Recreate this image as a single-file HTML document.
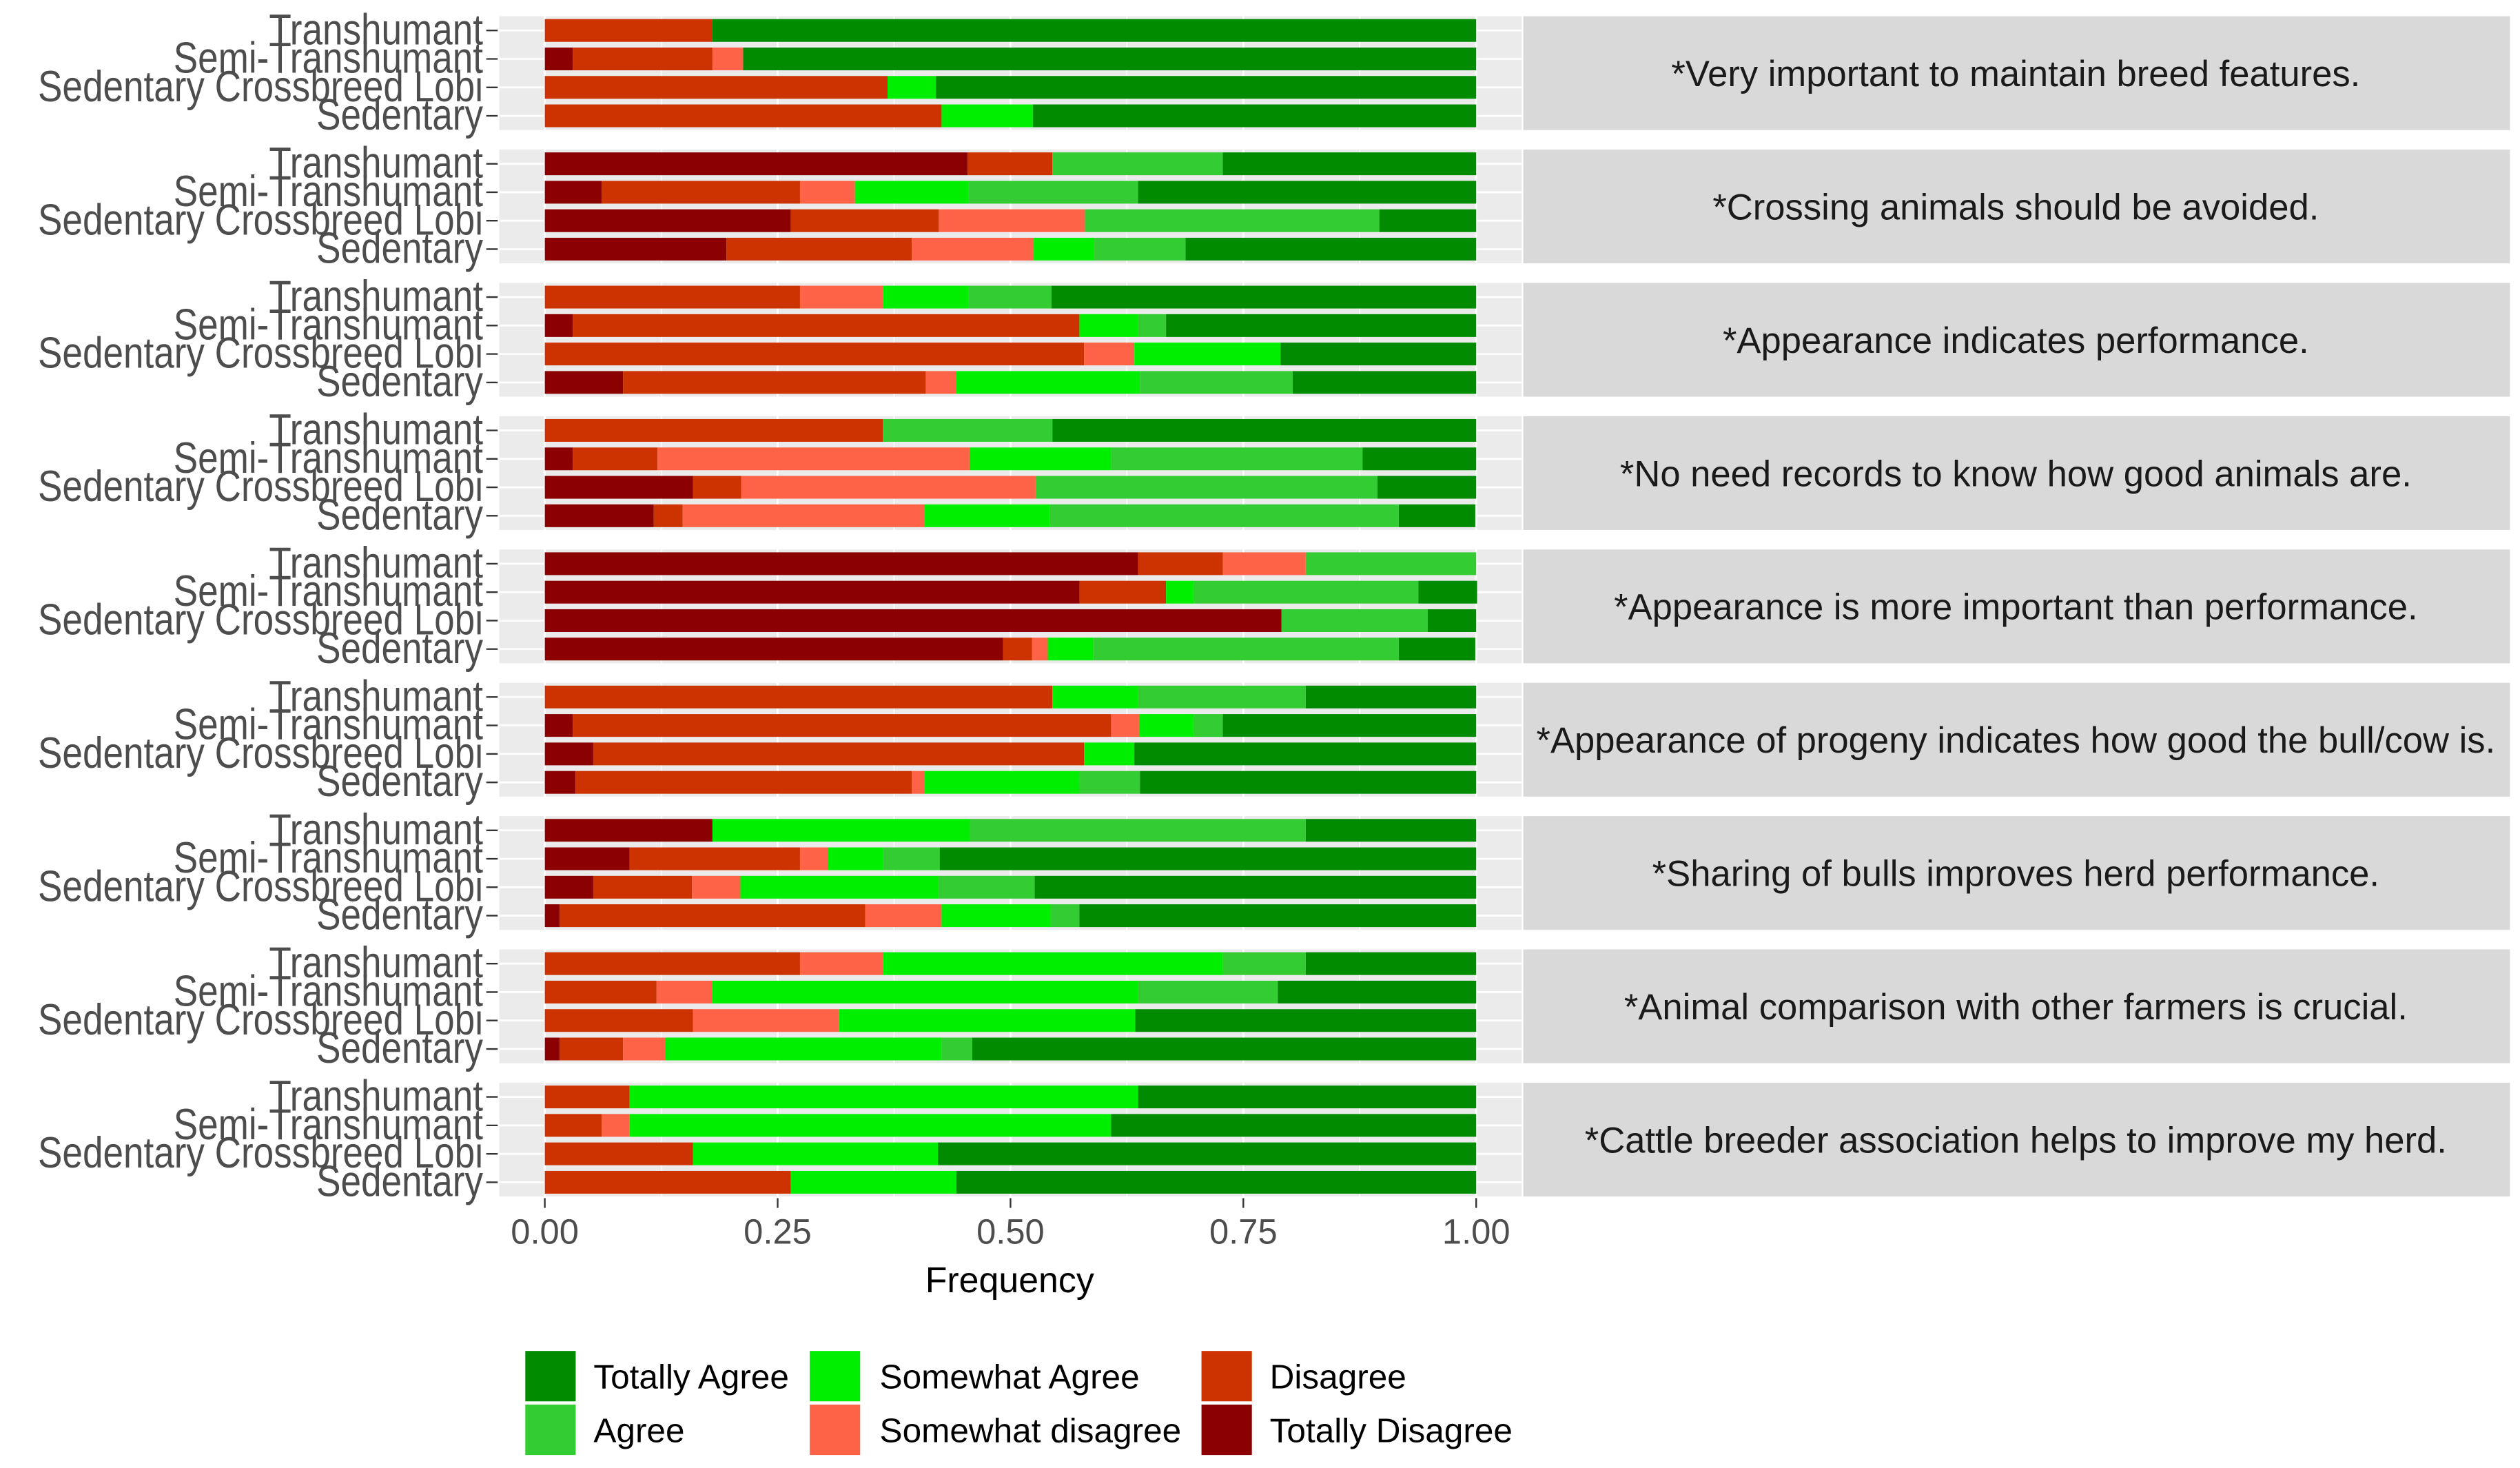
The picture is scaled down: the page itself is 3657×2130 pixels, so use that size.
<!DOCTYPE html>
<html><head><meta charset="utf-8"><style>
html,body{margin:0;padding:0;background:#fff}
svg{display:block}
text{font-family:"Liberation Sans",Arial,sans-serif}
</style></head><body>
<svg id="chart" width="3657" height="2130" viewBox="0 0 1550 903" xmlns="http://www.w3.org/2000/svg"></svg>
<script>
const categories = ["Transhumant","Semi-Transhumant","Sedentary Crossbreed Lobi","Sedentary"];
const panelTitles = ["*Very important to maintain breed features.","*Crossing animals  should be avoided.","*Appearance indicates performance.","*No need records to know how good animals are.","*Appearance is more important than performance.","*Appearance of progeny indicates how good the bull/cow is.","*Sharing of bulls improves herd performance.","*Animal comparison with other farmers is crucial.","*Cattle breeder association helps to improve my herd."];
const levels = ["Totally Disagree","Disagree","Somewhat disagree","Somewhat Agree","Agree","Totally Agree"];
const xTicks = [0,0.25,0.5,0.75,1];
const xTickLabels = ["0.00","0.25","0.50","0.75","1.00"];
// values per panel, per category: [TD, D, SD, SA, A, TA]
const p1 = [[0,.18,0,0,0,.82],[.03,.15,.033,0,0,.787],[0,.368,0,.052,0,.58],[0,.426,0,.098,0,.476]];
const p2 = [[.454,.091,0,0,.183,.272],[.061,.213,.059,.122,.182,.363],[.264,.159,.157,0,.316,.104],[.195,.199,.131,.065,.098,.312]];
const p3 = [[0,.274,.089,.092,.089,.456],[.03,.544,0,.063,.03,.333],[0,.579,.054,.157,0,.21],[.084,.325,.033,.197,.164,.197]];
const p4 = [[0,.363,0,0,.182,.455],[.03,.091,.335,.152,.27,.122],[.159,.052,.316,0,.367,.106],[.117,.031,.26,.134,.375,.082]];
const p5 = [[.637,.091,.089,0,.183,0],[.574,.093,0,.03,.241,.063],[.791,0,0,0,.157,.052],[.492,.031,.017,.049,.328,.082]];
const p6 = [[0,.545,0,.092,.18,.183],[.03,.578,.03,.059,.031,.272],[.052,.527,0,.054,0,.367],[.033,.361,.014,.166,.065,.361]];
const p7 = [[.18,0,0,.276,.361,.183],[.091,.183,.03,.059,.061,.576],[.052,.106,.052,.213,.103,.474],[.016,.328,.082,.117,.031,.426]];
const p8 = [[0,.274,.089,.365,.089,.183],[0,.12,.06,.457,.15,.213],[0,.159,.157,.318,0,.366],[.016,.068,.045,.297,.033,.541]];
const p9 = [[0,.091,0,.546,0,.363],[0,.061,.03,.517,0,.392],[0,.159,0,.263,0,.578],[0,.264,0,.178,0,.558]];
const panels = [p1,p2,p3,p4,p5,p6,p7,p8,p9];
const colors = ["#8B0000","#CD3300","#FF6347","#00EE00","#33CC33","#008B00"];

const svg = document.getElementById('chart');
const NS = "http://www.w3.org/2000/svg";
function mk(tag, attrs, parent){const e=document.createElementNS(NS,tag);for(const k in attrs)e.setAttribute(k,attrs[k]);(parent||svg).appendChild(e);return e;}
const X0=335, X1=908;
const xs = v => X0 + v*(X1-X0);
const panelTop = i => 10 + i*82;
const PH = 70;
const bandY = (i,j) => panelTop(i) + PH/4*(j+0.5);

panels.forEach((pd,i)=>{
  const g = mk('g',{});
  
  
  const bg = mk('rect',{x:307,y:panelTop(i),width:629,height:PH,fill:'#EBEBEB'},g);
  
  
  [0.125,0.375,0.625,0.875].forEach(v=>mk('line',{x1:xs(v),x2:xs(v),y1:panelTop(i),y2:panelTop(i)+PH,stroke:'#fff','stroke-width':0.6},g));
  xTicks.forEach(v=>mk('line',{x1:xs(v),x2:xs(v),y1:panelTop(i),y2:panelTop(i)+PH,stroke:'#fff','stroke-width':1.2},g));
  categories.forEach((c,j)=>{
    const y=bandY(i,j);
    mk('line',{x1:307,x2:936,y1:y,y2:y,stroke:'#fff','stroke-width':1.2},g);
    let acc=0;
    pd[j].forEach((v,k)=>{
      if(v<=0)return;
      const r=mk('rect',{x:xs(acc),y:y-7,width:xs(acc+v)-xs(acc),height:14,fill:colors[k]},g);
      
      
      acc+=v;
    });
    const t=mk('text',{x:297,y:0,'text-anchor':'end','font-size':22.5,fill:'#4D4D4D',transform:'translate(0,'+(y+8.5)+') scale(1,1.18)'},g);
    t.textContent=c;
    
    
    mk('line',{x1:299,x2:306,y1:y,y2:y,stroke:'#333','stroke-width':1},g);
  });
  const s=mk('rect',{x:937,y:panelTop(i),width:607,height:PH,fill:'#D9D9D9'},g);
  
  
  const st=mk('text',{x:1240,y:panelTop(i)+PH/2+8,'text-anchor':'middle','font-size':22.3,fill:'#1A1A1A'},g);
  st.textContent=panelTitles[i];
  
  
});
xTicks.forEach((v,k)=>{
  mk('line',{x1:xs(v),x2:xs(v),y1:737,y2:743,stroke:'#333','stroke-width':1});
  const t=mk('text',{x:xs(v),y:765,'text-anchor':'middle','font-size':21.5,fill:'#4D4D4D'});
  t.textContent=xTickLabels[k];
  
  
});
const xt=mk('text',{x:621,y:795,'text-anchor':'middle','font-size':22,fill:'#000'});
xt.textContent='Frequency';


// legend
const legendOrder=[[5,323,831,365],[4,323,864,365],[3,498,831,541],[2,498,864,541],[1,739,831,781],[0,739,864,781]];
legendOrder.forEach(([k,kx,ky,tx])=>{
  const r=mk('rect',{x:kx,y:ky,width:31,height:31,fill:colors[k]});
  
  
  const t=mk('text',{x:tx,y:ky+23,'font-size':21,fill:'#000'});
  t.textContent=levels[k];
  
  
});
</script>
</body></html>
